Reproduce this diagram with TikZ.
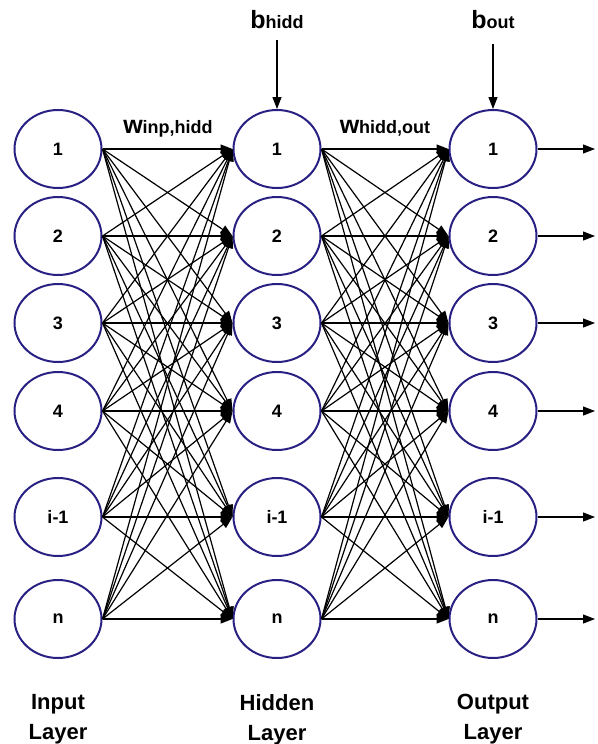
\documentclass[tikz,border=0pt]{standalone}
\usepackage{fontspec}
\setmainfont{Liberation Sans}
\usetikzlibrary{shapes.geometric,arrows.meta}
\definecolor{navy}{RGB}{40,32,130}
\tikzset{
  neuron/.style={ellipse, draw=navy, line width=2pt, minimum width=87pt, minimum height=78pt, inner sep=0pt, font=\fontsize{18}{18}\selectfont\bfseries},
  conn/.style={line width=1.2pt, -{Triangle[length=12pt,width=9pt]}},
  lbl/.style={font=\fontsize{22}{30}\selectfont\bfseries, align=center, anchor=north, inner sep=0pt},
}
\newcommand{\bigtxt}[1]{{\fontsize{25}{25}\selectfont #1}}
\newcommand{\smtxt}[1]{{\fontsize{18}{18}\selectfont #1}}
\begin{document}
\begin{tikzpicture}[x=1pt,y=-1pt]
\useasboundingbox (0,0) rectangle (597,744);
\foreach \n/\t/\y in {1/1/149, 2/2/236, 3/3/323, 4/4/411, 5/i-1/517, 6/n/619} {
  \node[neuron] (in\n) at (58,\y) {\t};
  \node[neuron] (hid\n) at (277,\y) {\t};
  \node[neuron] (out\n) at (493,\y) {\t};
  \coordinate (end\n) at (595,\y);
  \draw[conn] (out\n.east) -- (end\n);
}
\foreach \i in {1,...,6} {
  \foreach \j in {1,...,6} {
    \draw[conn] (in\i.east) -- (hid\j.west);
    \draw[conn] (hid\i.east) -- (out\j.west);
  }
}
\node[anchor=base, inner sep=0pt, font=\bfseries] (bh) at (277,28) {\bigtxt{b}\smtxt{hidd}};
\node[anchor=base, inner sep=0pt, font=\bfseries] (bo) at (493,28) {\bigtxt{b}\smtxt{out}};
\coordinate (bhs) at (277,40);
\coordinate (bos) at (493,44);
\draw[conn] (bhs) -- (hid1.north);
\draw[conn] (bos) -- (out1.north);
\node[anchor=base, inner sep=0pt, font=\bfseries] (w1) at (168,133) {\bigtxt{w}\smtxt{inp,hidd}};
\node[anchor=base, inner sep=0pt, font=\bfseries] (w2) at (385,133) {\bigtxt{w}\smtxt{hidd,out}};
\node[lbl] (li) at (58,694) {Input\\Layer};
\node[lbl] (lh) at (277,694) {Hidden\\Layer};
\node[lbl] (lo) at (493,694) {Output\\Layer};
\end{tikzpicture}
\end{document}
